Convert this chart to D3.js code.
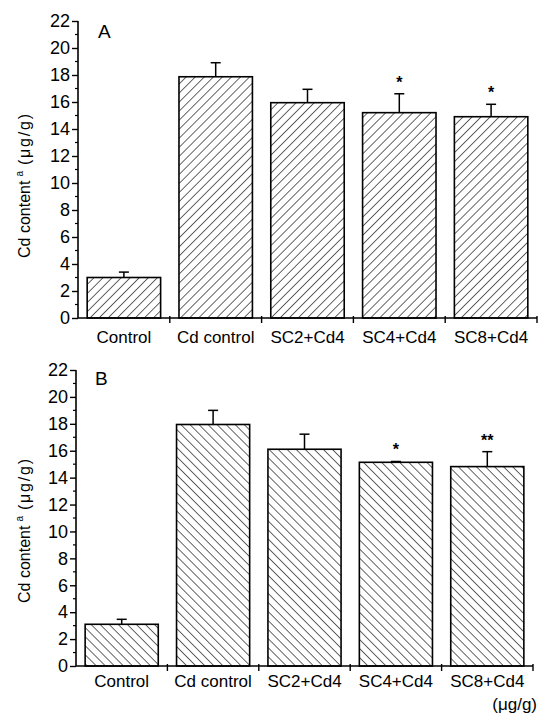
<!DOCTYPE html>
<html>
<head>
<meta charset="utf-8">
<script src="https://cdn.jsdelivr.net/npm/d3@7"></script>
<style>
  html, body { margin: 0; padding: 0; background: #fff; }
  svg { display: block; font-family: "Liberation Sans", Arial, Helvetica, sans-serif; }
</style>
</head>
<body>
<script>
// Cd content in two experiments (A, B), mean with upward SD bars
const categories = ["Control", "Cd control", "SC2+Cd4", "SC4+Cd4", "SC8+Cd4"];
const meansA = [3.0, 17.87, 15.95, 15.21, 14.91];
const errorsA = [0.4, 1.04, 0.99, 1.4, 0.92];
const marksA = ["", "", "", "*", "*"];
const meansB = [3.1, 17.95, 16.11, 15.14, 14.82];
const errorsB = [0.37, 1.05, 1.12, 0.06, 1.11];
const marksB = ["", "", "", "*", "**"];
const yTicks = [0, 2, 4, 6, 8, 10, 12, 14, 16, 18, 20, 22];
const yMinorTicks = d3.range(1, 22, 2);

const W = 543, H = 720;
const svg = d3.select("body").append("svg").attr("width", W).attr("height", H);
svg.append("rect").attr("width", W).attr("height", H).attr("fill", "#fff");

const defs = svg.append("defs");
function hatch(id, angle) {
  const p = defs.append("pattern")
    .attr("id", id)
    .attr("patternUnits", "userSpaceOnUse")
    .attr("width", 6.4).attr("height", 6.4)
    .attr("patternTransform", `rotate(${angle})`);
  p.append("rect").attr("width", 6.4).attr("height", 6.4).attr("fill", "#fff");
  p.append("line").attr("x1", 0).attr("y1", 0).attr("x2", 0).attr("y2", 6.4)
    .attr("stroke", "#000").attr("stroke-width", 1.2);
}
hatch("hatchA", 45);
hatch("hatchB", -45);

const panels = [
  { name: "A", means: meansA, errors: errorsA, marks: marksA, pattern: "hatchA",
    x0: 78, x1: 537, y0: 318, y1: 21, letter: [98, 38], yLabel: [30, 258], catY: 25 },
  { name: "B", means: meansB, errors: errorsB, marks: marksB, pattern: "hatchB",
    x0: 76, x1: 533, y0: 666, y1: 370, letter: [95, 385], yLabel: [30, 603], catY: 21 }
];

panels.forEach(pn => {
  const g = svg.append("g");
  const x = d3.scaleBand().domain(categories).range([pn.x0, pn.x1])
    .paddingInner(0.2).paddingOuter(0.1);
  const y = d3.scaleLinear().domain([0, 22]).range([pn.y0, pn.y1]);

  // bars
  g.selectAll("rect.bar").data(categories).join("rect")
    .attr("class", "bar")
    .attr("x", d => x(d))
    .attr("y", (d, i) => y(pn.means[i]))
    .attr("width", x.bandwidth())
    .attr("height", (d, i) => y(0) - y(pn.means[i]))
    .attr("fill", `url(#${pn.pattern})`)
    .attr("stroke", "#000").attr("stroke-width", 1.6);

  // error bars (upper half only)
  const eb = g.selectAll("g.err").data(categories).join("g").attr("class", "err");
  eb.append("line")
    .attr("x1", d => x(d) + x.bandwidth() / 2).attr("x2", d => x(d) + x.bandwidth() / 2)
    .attr("y1", (d, i) => y(pn.means[i])).attr("y2", (d, i) => y(pn.means[i] + pn.errors[i]))
    .attr("stroke", "#000").attr("stroke-width", 1.5);
  eb.append("line")
    .attr("x1", d => x(d) + x.bandwidth() / 2 - 5).attr("x2", d => x(d) + x.bandwidth() / 2 + 5)
    .attr("y1", (d, i) => y(pn.means[i] + pn.errors[i])).attr("y2", (d, i) => y(pn.means[i] + pn.errors[i]))
    .attr("stroke", "#000").attr("stroke-width", 1.5);

  // significance marks
  g.selectAll("text.sig").data(categories).join("text")
    .attr("class", "sig")
    .attr("x", d => x(d) + x.bandwidth() / 2)
    .attr("y", (d, i) => y(pn.means[i] + pn.errors[i]) - 6)
    .attr("text-anchor", "middle")
    .attr("font-size", 16).attr("font-weight", "bold")
    .text((d, i) => pn.marks[i]);

  // y axis
  const yAxis = g.append("g").attr("transform", `translate(${pn.x0},0)`)
    .call(d3.axisLeft(y).tickValues(yTicks).tickSize(6).tickPadding(2).tickFormat(d3.format("d")));
  yAxis.select(".domain").attr("d", `M0,${y(0)}V${y(22)}`).attr("stroke-width", 1.6);
  yAxis.selectAll(".tick line").attr("stroke-width", 1.4);
  yAxis.selectAll(".tick text").attr("font-size", 18).attr("fill", "#000")
    .attr("font-family", "'Liberation Sans', Arial, sans-serif");
  g.append("g").selectAll("line").data(yMinorTicks).join("line")
    .attr("x1", pn.x0 - 3).attr("x2", pn.x0)
    .attr("y1", d => y(d)).attr("y2", d => y(d))
    .attr("stroke", "#000").attr("stroke-width", 1.2);

  // x axis with ticks between categories
  g.append("line").attr("x1", pn.x0).attr("x2", pn.x1)
    .attr("y1", y(0)).attr("y2", y(0)).attr("stroke", "#000").attr("stroke-width", 1.6);
  const bounds = categories.map(c => x(c) - x.step() * x.paddingInner() / 2 + x.step()).slice(0, 5);
  g.append("g").selectAll("line").data(bounds).join("line")
    .attr("x1", d => d).attr("x2", d => d)
    .attr("y1", y(0) - 2).attr("y2", y(0) + 5)
    .attr("stroke", "#000").attr("stroke-width", 1.4);

  // category labels
  g.selectAll("text.cat").data(categories).join("text")
    .attr("class", "cat")
    .attr("x", d => x(d) + x.bandwidth() / 2)
    .attr("y", y(0) + pn.catY)
    .attr("text-anchor", "middle")
    .attr("font-size", 17)
    .text(d => d);

  // panel letter
  g.append("text").attr("x", pn.letter[0]).attr("y", pn.letter[1])
    .attr("font-size", 19).text(pn.name);

  // y axis title
  const t = g.append("text")
    .attr("transform", `translate(${pn.yLabel[0]},${pn.yLabel[1]}) rotate(-90)`)
    .attr("font-size", 16);
  t.append("tspan").text("Cd content");
  t.append("tspan").attr("font-size", 10).attr("dx", 4).attr("dy", -7).text("a");
  t.append("tspan").attr("dx", 6).attr("dy", 7).attr("letter-spacing", 1.8).text("(\u03bcg/g)");
});

// unit note under the last category
svg.append("text").attr("x", 537).attr("y", 710).attr("text-anchor", "end")
  .attr("font-size", 17).text("(\u03bcg/g)");
</script>
</body>
</html>
